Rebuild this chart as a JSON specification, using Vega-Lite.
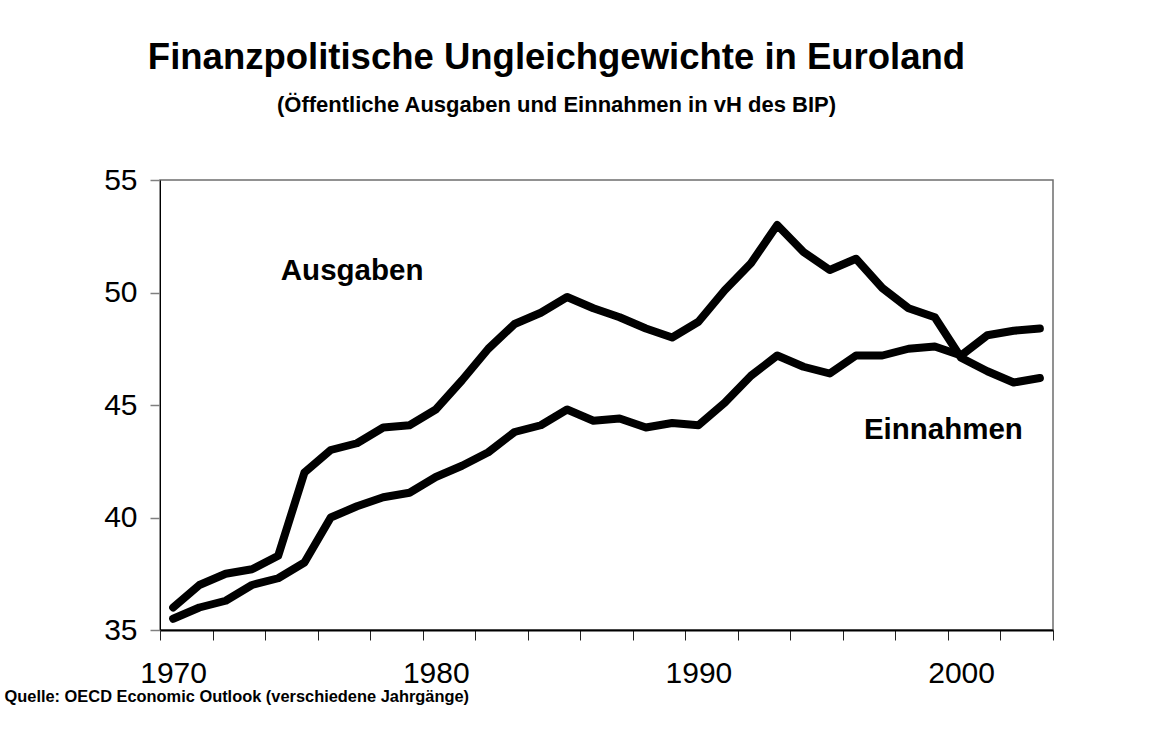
{
  "$schema": "https://vega.github.io/schema/vega-lite/v6.json",
  "width": 893,
  "height": 450,
  "autosize": {"type": "none"},
  "padding": {"left": 160, "top": 180, "right": 121, "bottom": 112},
  "background": "white",
  "config": {
    "font": "Liberation Sans",
    "view": {"stroke": "#6e6e6e", "strokeWidth": 1.5}
  },
  "title": {
    "text": "Finanzpolitische Ungleichgewichte in Euroland",
    "subtitle": "(Öffentliche Ausgaben und Einnahmen in vH des BIP)",
    "anchor": "middle",
    "frame": "group",
    "dx": -50,
    "offset": 49,
    "font": "Liberation Sans",
    "fontSize": 36.5,
    "fontWeight": "bold",
    "color": "black",
    "subtitleFont": "Liberation Sans",
    "subtitleFontSize": 22,
    "subtitleFontWeight": "bold",
    "subtitleColor": "black",
    "subtitlePadding": 19
  },
  "datasets": {
    "series": [
      {"year": 1970, "series": "Ausgaben", "value": 36.0},
      {"year": 1971, "series": "Ausgaben", "value": 37.0},
      {"year": 1972, "series": "Ausgaben", "value": 37.5},
      {"year": 1973, "series": "Ausgaben", "value": 37.7},
      {"year": 1974, "series": "Ausgaben", "value": 38.3},
      {"year": 1975, "series": "Ausgaben", "value": 42.0},
      {"year": 1976, "series": "Ausgaben", "value": 43.0},
      {"year": 1977, "series": "Ausgaben", "value": 43.3},
      {"year": 1978, "series": "Ausgaben", "value": 44.0},
      {"year": 1979, "series": "Ausgaben", "value": 44.1},
      {"year": 1980, "series": "Ausgaben", "value": 44.8},
      {"year": 1981, "series": "Ausgaben", "value": 46.1},
      {"year": 1982, "series": "Ausgaben", "value": 47.5},
      {"year": 1983, "series": "Ausgaben", "value": 48.6},
      {"year": 1984, "series": "Ausgaben", "value": 49.1},
      {"year": 1985, "series": "Ausgaben", "value": 49.8},
      {"year": 1986, "series": "Ausgaben", "value": 49.3},
      {"year": 1987, "series": "Ausgaben", "value": 48.9},
      {"year": 1988, "series": "Ausgaben", "value": 48.4},
      {"year": 1989, "series": "Ausgaben", "value": 48.0},
      {"year": 1990, "series": "Ausgaben", "value": 48.7},
      {"year": 1991, "series": "Ausgaben", "value": 50.1},
      {"year": 1992, "series": "Ausgaben", "value": 51.3},
      {"year": 1993, "series": "Ausgaben", "value": 53.0},
      {"year": 1994, "series": "Ausgaben", "value": 51.8},
      {"year": 1995, "series": "Ausgaben", "value": 51.0},
      {"year": 1996, "series": "Ausgaben", "value": 51.5},
      {"year": 1997, "series": "Ausgaben", "value": 50.2},
      {"year": 1998, "series": "Ausgaben", "value": 49.3},
      {"year": 1999, "series": "Ausgaben", "value": 48.9},
      {"year": 2000, "series": "Ausgaben", "value": 47.1},
      {"year": 2001, "series": "Ausgaben", "value": 46.5},
      {"year": 2002, "series": "Ausgaben", "value": 46.0},
      {"year": 2003, "series": "Ausgaben", "value": 46.2},
      {"year": 1970, "series": "Einnahmen", "value": 35.5},
      {"year": 1971, "series": "Einnahmen", "value": 36.0},
      {"year": 1972, "series": "Einnahmen", "value": 36.3},
      {"year": 1973, "series": "Einnahmen", "value": 37.0},
      {"year": 1974, "series": "Einnahmen", "value": 37.3},
      {"year": 1975, "series": "Einnahmen", "value": 38.0},
      {"year": 1976, "series": "Einnahmen", "value": 40.0},
      {"year": 1977, "series": "Einnahmen", "value": 40.5},
      {"year": 1978, "series": "Einnahmen", "value": 40.9},
      {"year": 1979, "series": "Einnahmen", "value": 41.1},
      {"year": 1980, "series": "Einnahmen", "value": 41.8},
      {"year": 1981, "series": "Einnahmen", "value": 42.3},
      {"year": 1982, "series": "Einnahmen", "value": 42.9},
      {"year": 1983, "series": "Einnahmen", "value": 43.8},
      {"year": 1984, "series": "Einnahmen", "value": 44.1},
      {"year": 1985, "series": "Einnahmen", "value": 44.8},
      {"year": 1986, "series": "Einnahmen", "value": 44.3},
      {"year": 1987, "series": "Einnahmen", "value": 44.4},
      {"year": 1988, "series": "Einnahmen", "value": 44.0},
      {"year": 1989, "series": "Einnahmen", "value": 44.2},
      {"year": 1990, "series": "Einnahmen", "value": 44.1},
      {"year": 1991, "series": "Einnahmen", "value": 45.1},
      {"year": 1992, "series": "Einnahmen", "value": 46.3},
      {"year": 1993, "series": "Einnahmen", "value": 47.2},
      {"year": 1994, "series": "Einnahmen", "value": 46.7},
      {"year": 1995, "series": "Einnahmen", "value": 46.4},
      {"year": 1996, "series": "Einnahmen", "value": 47.2},
      {"year": 1997, "series": "Einnahmen", "value": 47.2},
      {"year": 1998, "series": "Einnahmen", "value": 47.5},
      {"year": 1999, "series": "Einnahmen", "value": 47.6},
      {"year": 2000, "series": "Einnahmen", "value": 47.2},
      {"year": 2001, "series": "Einnahmen", "value": 48.1},
      {"year": 2002, "series": "Einnahmen", "value": 48.3},
      {"year": 2003, "series": "Einnahmen", "value": 48.4}
    ],
    "labels": [
      {"year": 1974.1, "value": 50.55, "label": "Ausgaben"},
      {"year": 1996.3, "value": 43.5, "label": "Einnahmen"}
    ]
  },
  "layer": [
    {
      "data": {"name": "series"},
      "mark": {"type": "line", "color": "black", "strokeWidth": 8, "strokeCap": "round", "strokeJoin": "round"},
      "encoding": {
        "x": {
          "field": "year",
          "type": "quantitative",
          "scale": {"domain": [1969.5, 2003.5], "nice": false, "zero": false},
          "axis": {
            "values": [1969.5, 1970.5, 1971.5, 1972.5, 1973.5, 1974.5, 1975.5, 1976.5, 1977.5, 1978.5, 1979.5, 1980.5, 1981.5, 1982.5, 1983.5, 1984.5, 1985.5, 1986.5, 1987.5, 1988.5, 1989.5, 1990.5, 1991.5, 1992.5, 1993.5, 1994.5, 1995.5, 1996.5, 1997.5, 1998.5, 1999.5, 2000.5, 2001.5, 2002.5, 2003.5],
            "labelExpr": "(datum.value + 0.5) % 10 === 0 ? '' + (datum.value + 0.5) : ''",
            "labelOffset": 13.13,
            "labelFlush": false,
            "labelOverlap": false,
            "labelBound": false,
            "labelFontSize": 30,
            "labelColor": "black",
            "labelPadding": 18,
            "grid": false,
            "domainColor": "black",
            "domainWidth": 2,
            "tickColor": "#222222",
            "tickSize": 10,
            "tickWidth": 1,
            "title": "Quelle: OECD Economic Outlook (verschiedene Jahrgänge)",
            "titleFontSize": 16.4,
            "titleFontWeight": "bold",
            "titleColor": "black",
            "titleAlign": "left",
            "titleBaseline": "alphabetic",
            "titleX": -156,
            "titleY": 71
          }
        },
        "y": {
          "field": "value",
          "type": "quantitative",
          "scale": {"domain": [35, 55], "nice": false, "zero": false},
          "axis": {
            "values": [35, 40, 45, 50, 55],
            "labelFontSize": 30,
            "labelColor": "black",
            "labelPadding": 13,
            "grid": false,
            "domainColor": "black",
            "domainWidth": 1,
            "tickColor": "#808080",
            "tickSize": 10,
            "tickWidth": 1.5,
            "title": null
          }
        },
        "detail": {"field": "series"}
      }
    },
    {
      "data": {"name": "labels"},
      "mark": {"type": "text", "align": "left", "baseline": "alphabetic", "fontSize": 29.5, "fontWeight": "bold", "color": "black", "font": "Liberation Sans"},
      "encoding": {
        "x": {"field": "year", "type": "quantitative"},
        "y": {"field": "value", "type": "quantitative"},
        "text": {"field": "label"}
      }
    }
  ]
}
